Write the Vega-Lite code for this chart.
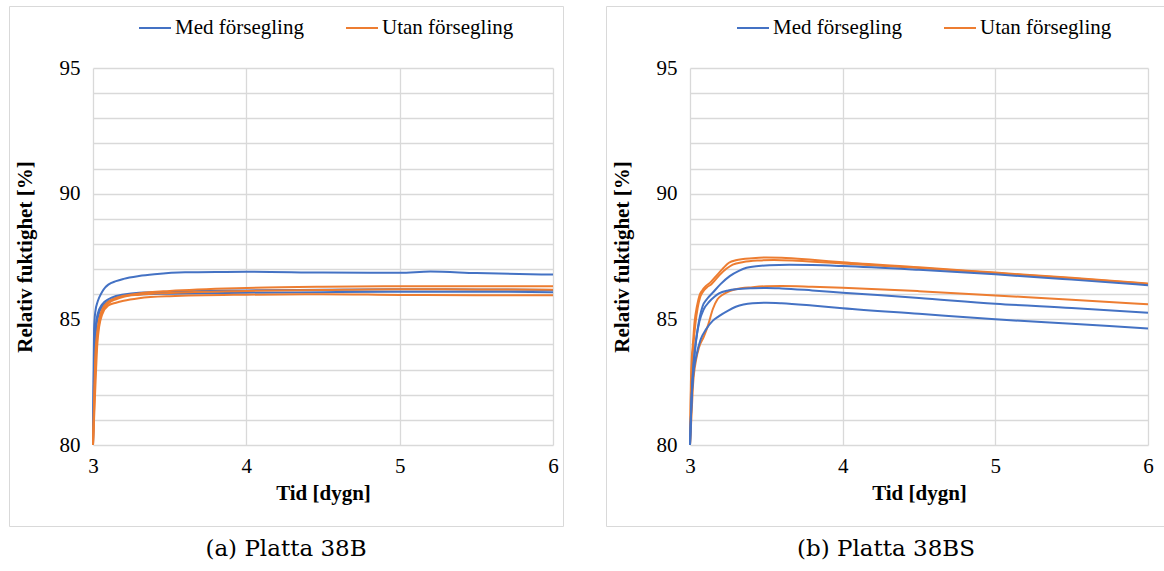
{
  "$schema": "https://vega.github.io/schema/vega-lite/v6.json",
  "background": "white",
  "padding": {"left": 8, "top": 5, "right": 0, "bottom": 0},
  "config": {
    "view": {"stroke": "#d9d9d9", "strokeWidth": 1},
    "font": "Liberation Serif",
    "concat": {"spacing": 41},
    "axis": {
      "domain": false,
      "ticks": false,
      "grid": true,
      "gridColor": "#d9d9d9",
      "gridWidth": 1.3,
      "labelFont": "Liberation Serif",
      "labelFontSize": 21,
      "labelColor": "black",
      "titleFont": "Liberation Serif",
      "titleFontSize": 21,
      "titleFontWeight": "bold",
      "titleColor": "black",
      "labelFlush": false
    },
    "legend": {
      "orient": "none",
      "direction": "horizontal",
      "title": null,
      "symbolType": "stroke",
      "symbolSize": 1024,
      "symbolStrokeWidth": 2,
      "labelFont": "Liberation Serif",
      "labelFontSize": 21,
      "labelColor": "black",
      "labelOffset": 3,
      "columnPadding": 38
    },
    "title": {"font": "DejaVu Serif", "fontSize": 23, "fontWeight": "normal", "color": "black", "orient": "bottom", "anchor": "middle", "offset": 12}
  },
  "datasets": {
    "b": [
      {"sensor": "B1", "serie": "Med försegling", "t": 3.0, "rh": 80},
      {"sensor": "B1", "serie": "Med försegling", "t": 3.004, "rh": 83.0},
      {"sensor": "B1", "serie": "Med försegling", "t": 3.007, "rh": 84.6},
      {"sensor": "B1", "serie": "Med försegling", "t": 3.015, "rh": 85.3},
      {"sensor": "B1", "serie": "Med försegling", "t": 3.03, "rh": 85.7},
      {"sensor": "B1", "serie": "Med försegling", "t": 3.04, "rh": 85.86},
      {"sensor": "B1", "serie": "Med försegling", "t": 3.06, "rh": 86.1},
      {"sensor": "B1", "serie": "Med försegling", "t": 3.08, "rh": 86.27},
      {"sensor": "B1", "serie": "Med försegling", "t": 3.1, "rh": 86.38},
      {"sensor": "B1", "serie": "Med försegling", "t": 3.15, "rh": 86.52},
      {"sensor": "B1", "serie": "Med försegling", "t": 3.2, "rh": 86.61},
      {"sensor": "B1", "serie": "Med försegling", "t": 3.3, "rh": 86.72},
      {"sensor": "B1", "serie": "Med försegling", "t": 3.4, "rh": 86.79},
      {"sensor": "B1", "serie": "Med försegling", "t": 3.6, "rh": 86.87},
      {"sensor": "B1", "serie": "Med försegling", "t": 3.8, "rh": 86.88},
      {"sensor": "B1", "serie": "Med försegling", "t": 4.0, "rh": 86.89},
      {"sensor": "B1", "serie": "Med försegling", "t": 4.5, "rh": 86.86},
      {"sensor": "B1", "serie": "Med försegling", "t": 5.0, "rh": 86.85},
      {"sensor": "B1", "serie": "Med försegling", "t": 5.2, "rh": 86.9},
      {"sensor": "B1", "serie": "Med försegling", "t": 5.5, "rh": 86.84},
      {"sensor": "B1", "serie": "Med försegling", "t": 6.0, "rh": 86.78},
      {"sensor": "B2", "serie": "Med försegling", "t": 3.0, "rh": 80},
      {"sensor": "B2", "serie": "Med försegling", "t": 3.005, "rh": 82.5},
      {"sensor": "B2", "serie": "Med försegling", "t": 3.01, "rh": 83.8},
      {"sensor": "B2", "serie": "Med försegling", "t": 3.017, "rh": 84.67},
      {"sensor": "B2", "serie": "Med försegling", "t": 3.03, "rh": 85.2},
      {"sensor": "B2", "serie": "Med försegling", "t": 3.06, "rh": 85.6},
      {"sensor": "B2", "serie": "Med försegling", "t": 3.1, "rh": 85.8},
      {"sensor": "B2", "serie": "Med försegling", "t": 3.15, "rh": 85.93},
      {"sensor": "B2", "serie": "Med försegling", "t": 3.2, "rh": 85.99},
      {"sensor": "B2", "serie": "Med försegling", "t": 3.3, "rh": 86.06},
      {"sensor": "B2", "serie": "Med försegling", "t": 3.5, "rh": 86.1},
      {"sensor": "B2", "serie": "Med försegling", "t": 4.0, "rh": 86.15},
      {"sensor": "B2", "serie": "Med försegling", "t": 4.5, "rh": 86.18},
      {"sensor": "B2", "serie": "Med försegling", "t": 5.0, "rh": 86.2},
      {"sensor": "B2", "serie": "Med försegling", "t": 5.5, "rh": 86.19},
      {"sensor": "B2", "serie": "Med försegling", "t": 6.0, "rh": 86.17},
      {"sensor": "B3", "serie": "Med försegling", "t": 3.0, "rh": 80},
      {"sensor": "B3", "serie": "Med försegling", "t": 3.006, "rh": 82.3},
      {"sensor": "B3", "serie": "Med försegling", "t": 3.012, "rh": 83.7},
      {"sensor": "B3", "serie": "Med försegling", "t": 3.02, "rh": 84.6},
      {"sensor": "B3", "serie": "Med försegling", "t": 3.04, "rh": 85.25},
      {"sensor": "B3", "serie": "Med försegling", "t": 3.06, "rh": 85.5},
      {"sensor": "B3", "serie": "Med försegling", "t": 3.1, "rh": 85.72},
      {"sensor": "B3", "serie": "Med försegling", "t": 3.15, "rh": 85.86},
      {"sensor": "B3", "serie": "Med försegling", "t": 3.2, "rh": 85.93},
      {"sensor": "B3", "serie": "Med försegling", "t": 3.3, "rh": 85.99},
      {"sensor": "B3", "serie": "Med försegling", "t": 3.5, "rh": 86.02},
      {"sensor": "B3", "serie": "Med försegling", "t": 4.0, "rh": 86.06},
      {"sensor": "B3", "serie": "Med försegling", "t": 4.5, "rh": 86.08},
      {"sensor": "B3", "serie": "Med försegling", "t": 5.0, "rh": 86.1},
      {"sensor": "B3", "serie": "Med försegling", "t": 5.5, "rh": 86.1},
      {"sensor": "B3", "serie": "Med försegling", "t": 6.0, "rh": 86.08},
      {"sensor": "O1", "serie": "Utan försegling", "t": 3.0, "rh": 80},
      {"sensor": "O1", "serie": "Utan försegling", "t": 3.008, "rh": 82.0},
      {"sensor": "O1", "serie": "Utan försegling", "t": 3.015, "rh": 83.5},
      {"sensor": "O1", "serie": "Utan försegling", "t": 3.028, "rh": 84.5},
      {"sensor": "O1", "serie": "Utan försegling", "t": 3.04, "rh": 85.0},
      {"sensor": "O1", "serie": "Utan försegling", "t": 3.06, "rh": 85.4},
      {"sensor": "O1", "serie": "Utan försegling", "t": 3.1, "rh": 85.7},
      {"sensor": "O1", "serie": "Utan försegling", "t": 3.15, "rh": 85.85},
      {"sensor": "O1", "serie": "Utan försegling", "t": 3.2, "rh": 85.94},
      {"sensor": "O1", "serie": "Utan försegling", "t": 3.3, "rh": 86.03},
      {"sensor": "O1", "serie": "Utan försegling", "t": 3.5, "rh": 86.13},
      {"sensor": "O1", "serie": "Utan försegling", "t": 4.0, "rh": 86.25},
      {"sensor": "O1", "serie": "Utan försegling", "t": 4.5, "rh": 86.3},
      {"sensor": "O1", "serie": "Utan försegling", "t": 5.0, "rh": 86.32},
      {"sensor": "O1", "serie": "Utan försegling", "t": 5.5, "rh": 86.32},
      {"sensor": "O1", "serie": "Utan försegling", "t": 6.0, "rh": 86.32},
      {"sensor": "O2", "serie": "Utan försegling", "t": 3.0, "rh": 80},
      {"sensor": "O2", "serie": "Utan försegling", "t": 3.009, "rh": 81.8},
      {"sensor": "O2", "serie": "Utan försegling", "t": 3.017, "rh": 83.3},
      {"sensor": "O2", "serie": "Utan försegling", "t": 3.03, "rh": 84.4},
      {"sensor": "O2", "serie": "Utan försegling", "t": 3.045, "rh": 85.0},
      {"sensor": "O2", "serie": "Utan försegling", "t": 3.06, "rh": 85.3},
      {"sensor": "O2", "serie": "Utan försegling", "t": 3.1, "rh": 85.63},
      {"sensor": "O2", "serie": "Utan försegling", "t": 3.15, "rh": 85.8},
      {"sensor": "O2", "serie": "Utan försegling", "t": 3.2, "rh": 85.9},
      {"sensor": "O2", "serie": "Utan försegling", "t": 3.3, "rh": 85.98},
      {"sensor": "O2", "serie": "Utan försegling", "t": 3.5, "rh": 86.05},
      {"sensor": "O2", "serie": "Utan försegling", "t": 4.0, "rh": 86.13},
      {"sensor": "O2", "serie": "Utan försegling", "t": 4.5, "rh": 86.17},
      {"sensor": "O2", "serie": "Utan försegling", "t": 5.0, "rh": 86.2},
      {"sensor": "O2", "serie": "Utan försegling", "t": 5.5, "rh": 86.19},
      {"sensor": "O2", "serie": "Utan försegling", "t": 6.0, "rh": 86.18},
      {"sensor": "O3", "serie": "Utan försegling", "t": 3.0, "rh": 80},
      {"sensor": "O3", "serie": "Utan försegling", "t": 3.01, "rh": 81.5},
      {"sensor": "O3", "serie": "Utan försegling", "t": 3.02, "rh": 83.0},
      {"sensor": "O3", "serie": "Utan försegling", "t": 3.028, "rh": 84.0},
      {"sensor": "O3", "serie": "Utan försegling", "t": 3.04, "rh": 84.7},
      {"sensor": "O3", "serie": "Utan försegling", "t": 3.06, "rh": 85.2},
      {"sensor": "O3", "serie": "Utan försegling", "t": 3.1, "rh": 85.55},
      {"sensor": "O3", "serie": "Utan försegling", "t": 3.15, "rh": 85.66},
      {"sensor": "O3", "serie": "Utan försegling", "t": 3.2, "rh": 85.74},
      {"sensor": "O3", "serie": "Utan försegling", "t": 3.3, "rh": 85.84},
      {"sensor": "O3", "serie": "Utan försegling", "t": 3.5, "rh": 85.92},
      {"sensor": "O3", "serie": "Utan försegling", "t": 4.0, "rh": 85.98},
      {"sensor": "O3", "serie": "Utan försegling", "t": 4.5, "rh": 86.0},
      {"sensor": "O3", "serie": "Utan försegling", "t": 5.0, "rh": 85.97},
      {"sensor": "O3", "serie": "Utan försegling", "t": 5.5, "rh": 85.96},
      {"sensor": "O3", "serie": "Utan försegling", "t": 6.0, "rh": 85.96}
    ],
    "bs": [
      {"sensor": "O1", "serie": "Utan försegling", "t": 3.0, "rh": 80},
      {"sensor": "O1", "serie": "Utan försegling", "t": 3.006, "rh": 82.5},
      {"sensor": "O1", "serie": "Utan försegling", "t": 3.012, "rh": 83.5},
      {"sensor": "O1", "serie": "Utan försegling", "t": 3.018, "rh": 83.94},
      {"sensor": "O1", "serie": "Utan försegling", "t": 3.03, "rh": 84.9},
      {"sensor": "O1", "serie": "Utan försegling", "t": 3.045, "rh": 85.5},
      {"sensor": "O1", "serie": "Utan försegling", "t": 3.061, "rh": 85.93},
      {"sensor": "O1", "serie": "Utan försegling", "t": 3.08, "rh": 86.15},
      {"sensor": "O1", "serie": "Utan försegling", "t": 3.105, "rh": 86.33},
      {"sensor": "O1", "serie": "Utan försegling", "t": 3.13, "rh": 86.45},
      {"sensor": "O1", "serie": "Utan försegling", "t": 3.16, "rh": 86.65},
      {"sensor": "O1", "serie": "Utan försegling", "t": 3.19, "rh": 86.85},
      {"sensor": "O1", "serie": "Utan försegling", "t": 3.22, "rh": 87.05},
      {"sensor": "O1", "serie": "Utan försegling", "t": 3.255, "rh": 87.25},
      {"sensor": "O1", "serie": "Utan försegling", "t": 3.3, "rh": 87.35},
      {"sensor": "O1", "serie": "Utan försegling", "t": 3.41, "rh": 87.43},
      {"sensor": "O1", "serie": "Utan försegling", "t": 3.5, "rh": 87.46},
      {"sensor": "O1", "serie": "Utan försegling", "t": 3.6, "rh": 87.45},
      {"sensor": "O1", "serie": "Utan försegling", "t": 3.8, "rh": 87.37},
      {"sensor": "O1", "serie": "Utan försegling", "t": 4.0, "rh": 87.27},
      {"sensor": "O1", "serie": "Utan försegling", "t": 4.5, "rh": 87.07},
      {"sensor": "O1", "serie": "Utan försegling", "t": 5.0, "rh": 86.86},
      {"sensor": "O1", "serie": "Utan försegling", "t": 5.5, "rh": 86.65},
      {"sensor": "O1", "serie": "Utan försegling", "t": 6.0, "rh": 86.42},
      {"sensor": "O2", "serie": "Utan försegling", "t": 3.0, "rh": 80},
      {"sensor": "O2", "serie": "Utan försegling", "t": 3.007, "rh": 82.3},
      {"sensor": "O2", "serie": "Utan försegling", "t": 3.014, "rh": 83.3},
      {"sensor": "O2", "serie": "Utan försegling", "t": 3.02, "rh": 83.8},
      {"sensor": "O2", "serie": "Utan försegling", "t": 3.035, "rh": 84.8},
      {"sensor": "O2", "serie": "Utan försegling", "t": 3.05, "rh": 85.45},
      {"sensor": "O2", "serie": "Utan försegling", "t": 3.065, "rh": 85.85},
      {"sensor": "O2", "serie": "Utan försegling", "t": 3.085, "rh": 86.1},
      {"sensor": "O2", "serie": "Utan försegling", "t": 3.11, "rh": 86.27},
      {"sensor": "O2", "serie": "Utan försegling", "t": 3.14, "rh": 86.4},
      {"sensor": "O2", "serie": "Utan försegling", "t": 3.17, "rh": 86.6},
      {"sensor": "O2", "serie": "Utan försegling", "t": 3.2, "rh": 86.8},
      {"sensor": "O2", "serie": "Utan försegling", "t": 3.24, "rh": 87.02},
      {"sensor": "O2", "serie": "Utan försegling", "t": 3.28, "rh": 87.18},
      {"sensor": "O2", "serie": "Utan försegling", "t": 3.35, "rh": 87.28},
      {"sensor": "O2", "serie": "Utan försegling", "t": 3.45, "rh": 87.34},
      {"sensor": "O2", "serie": "Utan försegling", "t": 3.55, "rh": 87.36},
      {"sensor": "O2", "serie": "Utan försegling", "t": 3.7, "rh": 87.33},
      {"sensor": "O2", "serie": "Utan försegling", "t": 4.0, "rh": 87.22},
      {"sensor": "O2", "serie": "Utan försegling", "t": 4.5, "rh": 87.04},
      {"sensor": "O2", "serie": "Utan försegling", "t": 5.0, "rh": 86.84},
      {"sensor": "O2", "serie": "Utan försegling", "t": 5.5, "rh": 86.63},
      {"sensor": "O2", "serie": "Utan försegling", "t": 6.0, "rh": 86.42},
      {"sensor": "O3", "serie": "Utan försegling", "t": 3.0, "rh": 80},
      {"sensor": "O3", "serie": "Utan försegling", "t": 3.01, "rh": 81.2},
      {"sensor": "O3", "serie": "Utan försegling", "t": 3.02, "rh": 82.4},
      {"sensor": "O3", "serie": "Utan försegling", "t": 3.04, "rh": 83.4},
      {"sensor": "O3", "serie": "Utan försegling", "t": 3.06, "rh": 83.9},
      {"sensor": "O3", "serie": "Utan försegling", "t": 3.09, "rh": 84.3},
      {"sensor": "O3", "serie": "Utan försegling", "t": 3.12, "rh": 84.8},
      {"sensor": "O3", "serie": "Utan försegling", "t": 3.149, "rh": 85.4},
      {"sensor": "O3", "serie": "Utan försegling", "t": 3.18, "rh": 85.8},
      {"sensor": "O3", "serie": "Utan försegling", "t": 3.214, "rh": 85.98},
      {"sensor": "O3", "serie": "Utan försegling", "t": 3.26, "rh": 86.12},
      {"sensor": "O3", "serie": "Utan försegling", "t": 3.3, "rh": 86.2},
      {"sensor": "O3", "serie": "Utan försegling", "t": 3.41, "rh": 86.28},
      {"sensor": "O3", "serie": "Utan försegling", "t": 3.5, "rh": 86.32},
      {"sensor": "O3", "serie": "Utan försegling", "t": 3.6, "rh": 86.33},
      {"sensor": "O3", "serie": "Utan försegling", "t": 3.8, "rh": 86.3},
      {"sensor": "O3", "serie": "Utan försegling", "t": 4.0, "rh": 86.26},
      {"sensor": "O3", "serie": "Utan försegling", "t": 4.5, "rh": 86.12},
      {"sensor": "O3", "serie": "Utan försegling", "t": 5.0, "rh": 85.95},
      {"sensor": "O3", "serie": "Utan försegling", "t": 5.5, "rh": 85.78},
      {"sensor": "O3", "serie": "Utan försegling", "t": 6.0, "rh": 85.6},
      {"sensor": "B1", "serie": "Med försegling", "t": 3.0, "rh": 80},
      {"sensor": "B1", "serie": "Med försegling", "t": 3.01, "rh": 81.8},
      {"sensor": "B1", "serie": "Med försegling", "t": 3.02, "rh": 82.9},
      {"sensor": "B1", "serie": "Med försegling", "t": 3.028, "rh": 83.47},
      {"sensor": "B1", "serie": "Med försegling", "t": 3.05, "rh": 84.6},
      {"sensor": "B1", "serie": "Med försegling", "t": 3.083, "rh": 85.53},
      {"sensor": "B1", "serie": "Med försegling", "t": 3.11, "rh": 85.8},
      {"sensor": "B1", "serie": "Med försegling", "t": 3.149, "rh": 86.06},
      {"sensor": "B1", "serie": "Med försegling", "t": 3.2, "rh": 86.4},
      {"sensor": "B1", "serie": "Med försegling", "t": 3.26, "rh": 86.72},
      {"sensor": "B1", "serie": "Med försegling", "t": 3.32, "rh": 86.93},
      {"sensor": "B1", "serie": "Med försegling", "t": 3.37, "rh": 87.05},
      {"sensor": "B1", "serie": "Med försegling", "t": 3.45, "rh": 87.12},
      {"sensor": "B1", "serie": "Med försegling", "t": 3.52, "rh": 87.15},
      {"sensor": "B1", "serie": "Med försegling", "t": 3.65, "rh": 87.17},
      {"sensor": "B1", "serie": "Med försegling", "t": 3.8, "rh": 87.16},
      {"sensor": "B1", "serie": "Med försegling", "t": 4.0, "rh": 87.12},
      {"sensor": "B1", "serie": "Med försegling", "t": 4.5, "rh": 86.97},
      {"sensor": "B1", "serie": "Med försegling", "t": 5.0, "rh": 86.79},
      {"sensor": "B1", "serie": "Med försegling", "t": 5.5, "rh": 86.58},
      {"sensor": "B1", "serie": "Med försegling", "t": 6.0, "rh": 86.36},
      {"sensor": "B2", "serie": "Med försegling", "t": 3.0, "rh": 80},
      {"sensor": "B2", "serie": "Med försegling", "t": 3.01, "rh": 81.8},
      {"sensor": "B2", "serie": "Med försegling", "t": 3.02, "rh": 83.0},
      {"sensor": "B2", "serie": "Med försegling", "t": 3.04, "rh": 84.2},
      {"sensor": "B2", "serie": "Med försegling", "t": 3.061, "rh": 84.9},
      {"sensor": "B2", "serie": "Med försegling", "t": 3.09, "rh": 85.4},
      {"sensor": "B2", "serie": "Med försegling", "t": 3.126, "rh": 85.7},
      {"sensor": "B2", "serie": "Med försegling", "t": 3.16, "rh": 85.9},
      {"sensor": "B2", "serie": "Med försegling", "t": 3.19, "rh": 86.03},
      {"sensor": "B2", "serie": "Med försegling", "t": 3.25, "rh": 86.15},
      {"sensor": "B2", "serie": "Med försegling", "t": 3.3, "rh": 86.2},
      {"sensor": "B2", "serie": "Med försegling", "t": 3.41, "rh": 86.24},
      {"sensor": "B2", "serie": "Med försegling", "t": 3.5, "rh": 86.25},
      {"sensor": "B2", "serie": "Med försegling", "t": 3.6, "rh": 86.23},
      {"sensor": "B2", "serie": "Med försegling", "t": 3.8, "rh": 86.15},
      {"sensor": "B2", "serie": "Med försegling", "t": 4.0, "rh": 86.06},
      {"sensor": "B2", "serie": "Med försegling", "t": 4.5, "rh": 85.85},
      {"sensor": "B2", "serie": "Med försegling", "t": 5.0, "rh": 85.62},
      {"sensor": "B2", "serie": "Med försegling", "t": 5.5, "rh": 85.45},
      {"sensor": "B2", "serie": "Med försegling", "t": 6.0, "rh": 85.26},
      {"sensor": "B3", "serie": "Med försegling", "t": 3.0, "rh": 80},
      {"sensor": "B3", "serie": "Med försegling", "t": 3.008, "rh": 81.5},
      {"sensor": "B3", "serie": "Med försegling", "t": 3.02, "rh": 82.7},
      {"sensor": "B3", "serie": "Med försegling", "t": 3.04, "rh": 83.5},
      {"sensor": "B3", "serie": "Med försegling", "t": 3.07, "rh": 84.2},
      {"sensor": "B3", "serie": "Med försegling", "t": 3.105, "rh": 84.6},
      {"sensor": "B3", "serie": "Med försegling", "t": 3.15, "rh": 84.95},
      {"sensor": "B3", "serie": "Med försegling", "t": 3.19, "rh": 85.13},
      {"sensor": "B3", "serie": "Med försegling", "t": 3.25, "rh": 85.35},
      {"sensor": "B3", "serie": "Med försegling", "t": 3.3, "rh": 85.5},
      {"sensor": "B3", "serie": "Med försegling", "t": 3.41, "rh": 85.64},
      {"sensor": "B3", "serie": "Med försegling", "t": 3.5, "rh": 85.66},
      {"sensor": "B3", "serie": "Med försegling", "t": 3.6, "rh": 85.64},
      {"sensor": "B3", "serie": "Med försegling", "t": 3.8, "rh": 85.55},
      {"sensor": "B3", "serie": "Med försegling", "t": 4.0, "rh": 85.44},
      {"sensor": "B3", "serie": "Med försegling", "t": 4.5, "rh": 85.22},
      {"sensor": "B3", "serie": "Med försegling", "t": 5.0, "rh": 85.0},
      {"sensor": "B3", "serie": "Med försegling", "t": 5.5, "rh": 84.82},
      {"sensor": "B3", "serie": "Med försegling", "t": 6.0, "rh": 84.64}
    ]
  },
  "hconcat": [
    {
      "width": 554,
      "height": 520,
      "data": {"name": "b"},
      "title": {"text": "(a) Platta 38B"},
      "encoding": {
        "y": {"field": "rh", "type": "quantitative", "scale": {"domain": [80, 95], "range": [439, 62], "nice": false, "zero": false},
          "axis": {"title": "Relativ fuktighet [%]", "values": [80, 81, 82, 83, 84, 85, 86, 87, 88, 89, 90, 91, 92, 93, 94, 95], "labelExpr": "datum.value % 5 === 0 ? datum.label : ''", "offset": -84, "labelPadding": 13, "titlePadding": 24}},
        "color": {"field": "serie", "type": "nominal", "scale": {"domain": ["Med försegling", "Utan försegling"], "range": ["#4472C4", "#ED7D31"]},
          "legend": {"legendX": 129, "legendY": 5}},
        "detail": {"field": "sensor"}
      },
      "layer": [
        {
          "mark": {"type": "line", "strokeWidth": 2, "interpolate": "monotone"},
          "encoding": {
            "x": {"field": "t", "type": "quantitative", "scale": {"domain": [3, 6], "range": [84, 544], "nice": false, "zero": false},
              "axis": {"orient": "bottom", "grid": false, "title": "Tid [dygn]", "values": [3, 4, 5, 6], "offset": -81, "labelPadding": 10, "titlePadding": 6}}
          }
        },
        {
          "mark": {"type": "line", "strokeWidth": 2, "opacity": 0, "interpolate": "monotone"},
          "encoding": {
            "x": {"field": "t", "type": "quantitative", "scale": {"domain": [3, 6], "range": [84, 544], "nice": false, "zero": false},
              "axis": {"orient": "top", "grid": true, "labels": false, "title": null, "values": [3, 4, 5, 6]}}
          }
        }
      ],
      "resolve": {"axis": {"x": "independent"}}
    },
    {
      "width": 560,
      "height": 520,
      "data": {"name": "bs"},
      "title": {"text": "(b) Platta 38BS"},
      "encoding": {
        "y": {"field": "rh", "type": "quantitative", "scale": {"domain": [80, 95], "range": [439, 62], "nice": false, "zero": false},
          "axis": {"title": "Relativ fuktighet [%]", "values": [80, 81, 82, 83, 84, 85, 86, 87, 88, 89, 90, 91, 92, 93, 94, 95], "labelExpr": "datum.value % 5 === 0 ? datum.label : ''", "offset": -84, "labelPadding": 13, "titlePadding": 24}},
        "color": {"field": "serie", "type": "nominal", "scale": {"domain": ["Med försegling", "Utan försegling"], "range": ["#4472C4", "#ED7D31"]},
          "legend": {"legendX": 130, "legendY": 5}},
        "detail": {"field": "sensor"}
      },
      "layer": [
        {
          "mark": {"type": "line", "strokeWidth": 2, "interpolate": "monotone"},
          "encoding": {
            "x": {"field": "t", "type": "quantitative", "scale": {"domain": [3, 6], "range": [84, 542], "nice": false, "zero": false},
              "axis": {"orient": "bottom", "grid": false, "title": "Tid [dygn]", "values": [3, 4, 5, 6], "offset": -81, "labelPadding": 10, "titlePadding": 6}}
          }
        },
        {
          "mark": {"type": "line", "strokeWidth": 2, "opacity": 0, "interpolate": "monotone"},
          "encoding": {
            "x": {"field": "t", "type": "quantitative", "scale": {"domain": [3, 6], "range": [84, 542], "nice": false, "zero": false},
              "axis": {"orient": "top", "grid": true, "labels": false, "title": null, "values": [3, 4, 5, 6]}}
          }
        }
      ],
      "resolve": {"axis": {"x": "independent"}}
    }
  ],
  "resolve": {"scale": {"color": "independent", "x": "independent", "y": "independent"}, "legend": {"color": "independent"}}
}
